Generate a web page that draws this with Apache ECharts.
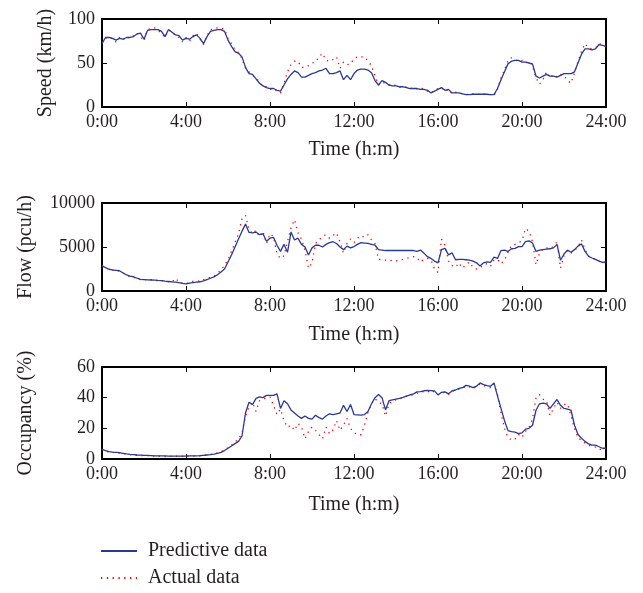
<!DOCTYPE html>
<html>
<head>
<meta charset="utf-8">
<script src="https://cdn.jsdelivr.net/npm/echarts@6/dist/echarts.min.js"></script>
<style>
html,body{margin:0;padding:0;background:#fff;}
#chart{width:643px;height:593px;}
</style>
</head>
<body>
<div id="chart"></div>
<script>
// time grid: 10-minute samples from 0:00 to 24:00 (145 samples)
const times = Array.from({length: 145}, (_, i) => i / 6);
const xTicks = [0, 4, 8, 12, 16, 20, 24];
const legendNames = ['Predictive data', 'Actual data'];

const speedPredicted = [
  72,79,79,78,76,78,77,79,79,80,83,84,
  77,87,88,88,88,86,80,88,85,82,81,76,
  78,77,80,82,78,72,80,86,87,88,88,86,
  76,69,63,61,57,45,38,37,32,27,24,22,
  21,21,19,18,25,32,37,41,39,34,34,36,
  38,39,41,42,44,38,38,39,41,31,36,31,
  38,42,43,43,42,39,30,25,30,28,25,24,
  24,23,23,22,21,21,21,20,20,19,16,18,
  20,22,19,20,16,16,16,15,14,14,14.5,14.5,
  14.5,14.5,14.5,14,14,21,31,40,49,52,53,53,
  51,51,50,49,35,33,35,37,35,35,34,36,
  38,38,38,40,50,60,66,66,65,66,71,70,
  69
];
const speedActual = [
  73,78,80,77,74,79,76,80,78,81,84,80,
  75,88,89,90,87,84,79,87,86,81,79,74,
  79,75,81,84,77,71,81,88,89,90,90,88,
  78,72,65,62,55,44,40,36,33,28,23,23,
  20,21,18,16,27,40,48,52,52,45,45,47,
  50,51,57,61,53,52,54,57,44,51,48,49,
  55,57,57,57,52,47,35,25,28,27,25,24,
  25,23,22,23,22,20,21,22,20,18,16,19,
  21,22,18,20,15,17,16,15,14,15,15,14,
  15,15,14,14,13,20,33,42,53,56,54,52,
  53,50,52,47,33,26,31,40,33,37,34,37,
  36,30,27,39,52,63,72,67,66,67,72,71,
  68
];
const flowPredicted = [
  2850,2650,2470,2400,2350,2300,2050,1820,1700,1620,1450,1330,
  1300,1270,1250,1230,1200,1180,1120,1080,1040,1000,950,870,
  800,900,950,1000,1050,1150,1300,1450,1600,1850,2150,2500,
  3300,4100,5000,5900,6800,7600,6650,6600,6700,6400,6500,5650,
  6000,6100,5200,4500,5300,4400,6700,5800,6000,5300,5000,4100,
  4900,5200,5200,5000,5300,5500,5600,5400,5000,4700,5100,4900,
  5050,5300,5500,5450,5400,5300,5200,4700,4650,4600,4600,4600,
  4600,4600,4600,4600,4600,4600,4500,4650,4300,3900,3700,3400,
  3200,4700,4850,4100,4350,3550,3600,3600,3550,3500,3400,3200,
  2850,3200,3300,3250,3850,3700,4600,4650,4500,4800,4850,5050,
  5050,5600,5700,5450,4500,4650,4700,4750,4800,4900,5300,3500,
  4200,4650,4400,4700,5100,5350,4500,3950,3750,3600,3400,3250,
  3300
];
const flowActual = [
  2900,2600,2500,2350,2400,2250,2100,1800,1650,1550,1400,1300,
  1350,1200,1300,1250,1150,1200,1100,1050,1000,1450,1000,900,
  800,1050,1100,1150,1100,1300,1400,1600,1700,2000,2400,2900,
  3600,4500,5500,6500,8200,8600,7000,6500,6900,6200,6800,5400,
  6500,6200,4200,3700,4000,5600,7200,8100,6600,5900,4600,2600,
  3200,5400,5800,6200,6400,6000,6300,6600,5600,4300,5400,5900,
  5500,6000,6300,6100,6400,5800,5400,3600,3600,3500,3400,3500,
  3400,3500,3600,3700,3800,3900,3800,3300,3600,3700,3500,2500,
  2100,5900,5200,3400,2900,2700,3200,2600,3000,3300,2700,2500,
  2600,3000,3100,2800,3500,3600,3100,3500,4400,5200,5300,5500,
  5700,7100,6800,5600,3000,4300,4800,4900,4800,5100,5600,2600,
  4000,4600,4300,4600,5000,5800,4700,4000,3700,3600,3400,3100,
  3400
];
const occPredicted = [
  6.3,5.5,4.8,4.5,4.3,4.1,3.7,3.3,3.0,2.8,2.6,2.5,
  2.4,2.3,2.2,2.1,2.0,2.0,2.0,1.9,1.9,1.9,1.9,1.9,
  1.9,2.0,2.0,2.1,2.2,2.4,2.6,2.8,3.2,3.7,4.3,5.5,
  7,8.5,10,11.5,15,30,37,35.5,39.5,40.5,40,41.5,
  41.5,41.5,42.5,33,38,36,32,30,28,26.5,28,26.5,
  26,28.5,27,26,28,29.5,29,29.5,30,35,31,35.5,
  29,28.8,28.6,29,31,36,40,42,40,32,38,38.5,
  39,39.5,40.2,41,41.8,42.5,43.8,44,44.5,44.8,44.6,44.4,
  41.8,43.5,43.8,42.5,44.4,45,46,46.5,48,47.5,46.6,47.5,
  49.6,48.5,47.8,47.4,49.6,41,33,25,18.5,17.8,17.5,16.5,
  17,19.5,20,22,31.8,36,36.5,36,33,36,38.8,35,
  33,32.5,31.8,22,16,13.5,11.5,9.8,9,9,8,7,
  7
];
const occActual = [
  6.5,5,4.5,4.2,4.4,3.8,3.5,3.2,2.8,2.7,2.3,2.4,
  2.0,2.2,1.8,2.0,1.7,1.9,1.6,1.8,1.7,1.9,1.5,1.8,
  1.8,2.0,1.9,2.1,2.0,2.5,2.7,3.0,3.5,4.0,4.8,5.8,
  7.5,9,11,13,17,28,34,37,31,38,39,40,
  40.5,35,29,32.5,25,20.8,22,18.7,23.3,20.8,13.2,18,
  20.8,18.7,16,13.2,20.8,16.5,19,25,18.7,22,26.5,20,
  17.3,15.8,15.8,22,30.6,36,39.3,37,36,28,36,38,
  38.5,39,40,41,41,42,43,43.5,44,43.5,45,43.5,
  42,43,43.5,42,44,45,45.5,46,47.5,47,46,47,
  49,48,47,46.5,49,42,30,20,14,12.4,13,16,
  14,18,20.5,26,40,42,39,38,28.5,33,37,33,
  35.5,36,28,20,14,12,10.5,9,8.5,7.8,6.2,6.5,
  6.4
];

const panels = [
  {name: 'Speed (km/h)', pred: speedPredicted, act: speedActual, min: 0, max: 100, interval: 50, top: 19, height: 88, nameGap: 46, xNameGap: 33},
  {name: 'Flow (pcu/h)', pred: flowPredicted, act: flowActual, min: 0, max: 10000, interval: 5000, top: 203, height: 88, nameGap: 66, xNameGap: 34},
  {name: 'Occupancy (%)', pred: occPredicted, act: occActual, min: 0, max: 60, interval: 20, top: 367, height: 92, nameGap: 66, xNameGap: 36}
];

const FONT = 'Liberation Serif';
const TXT = '#231f20';
const BLUE = '#2b3990';
const RED = '#ff0000';

const grid = [], xAxis = [], yAxis = [], series = [];
panels.forEach((p, k) => {
  grid.push({left: 102, width: 504, top: p.top, height: p.height});
  const lineStyle = {color: '#000', width: 2};
  const tick = {show: true, inside: true, length: 5, lineStyle: {color: '#000', width: 1}};
  xAxis.push({
    type: 'value', gridIndex: k, min: 0, max: 24, interval: 4, position: 'bottom',
    axisLine: {onZero: false, lineStyle}, axisTick: tick, splitLine: {show: false},
    axisLabel: {formatter: v => v + ':00', fontFamily: FONT, fontSize: 18, color: TXT, margin: 6},
    name: 'Time (h:m)', nameLocation: 'middle', nameGap: p.xNameGap,
    nameTextStyle: {fontFamily: FONT, fontSize: 20, color: TXT}
  });
  xAxis.push({
    type: 'value', gridIndex: k, min: 0, max: 24, interval: 4, position: 'top',
    axisLine: {onZero: false, lineStyle}, axisTick: tick, axisLabel: {show: false}, splitLine: {show: false}
  });
  yAxis.push({
    type: 'value', gridIndex: k, min: p.min, max: p.max, interval: p.interval, position: 'left',
    axisLine: {show: true, onZero: false, lineStyle}, axisTick: tick, splitLine: {show: false},
    axisLabel: {formatter: v => String(v), fontFamily: FONT, fontSize: 18, color: TXT, margin: 7},
    name: p.name, nameLocation: 'middle', nameGap: p.nameGap, nameRotate: 90,
    nameTextStyle: {fontFamily: FONT, fontSize: 20, color: TXT}
  });
  yAxis.push({
    type: 'value', gridIndex: k, min: p.min, max: p.max, interval: p.interval, position: 'right',
    axisLine: {show: true, onZero: false, lineStyle}, axisTick: tick, axisLabel: {show: false}, splitLine: {show: false}
  });
  series.push({
    name: legendNames[0], type: 'line', xAxisIndex: 2 * k, yAxisIndex: 2 * k,
    data: times.map((t, i) => [t, p.pred[i]]), symbol: 'none', smooth: false,
    lineStyle: {color: BLUE, width: 1.3}, itemStyle: {color: BLUE}, z: 3, animation: false
  });
  series.push({
    name: legendNames[1], type: 'line', xAxisIndex: 2 * k, yAxisIndex: 2 * k,
    data: times.map((t, i) => [t, p.act[i]]), symbol: 'none', smooth: false,
    lineStyle: {color: RED, width: 1.3, type: [1.3, 4.5]}, itemStyle: {color: RED}, z: 2, animation: false
  });
});

const chart = echarts.init(document.getElementById('chart'), null, {renderer: 'canvas'});
chart.setOption({
  backgroundColor: '#fff',
  animation: false,
  grid, xAxis, yAxis, series,
  legend: {
    data: legendNames, orient: 'vertical', left: 100, top: 541, height: 52, padding: 0,
    itemWidth: 36, itemHeight: 14, itemGap: 7,
    itemStyle: {opacity: 0},
    textStyle: {fontFamily: FONT, fontSize: 20, color: TXT, padding: [0, 0, 0, 6]}
  }
});
</script>
</body>
</html>
